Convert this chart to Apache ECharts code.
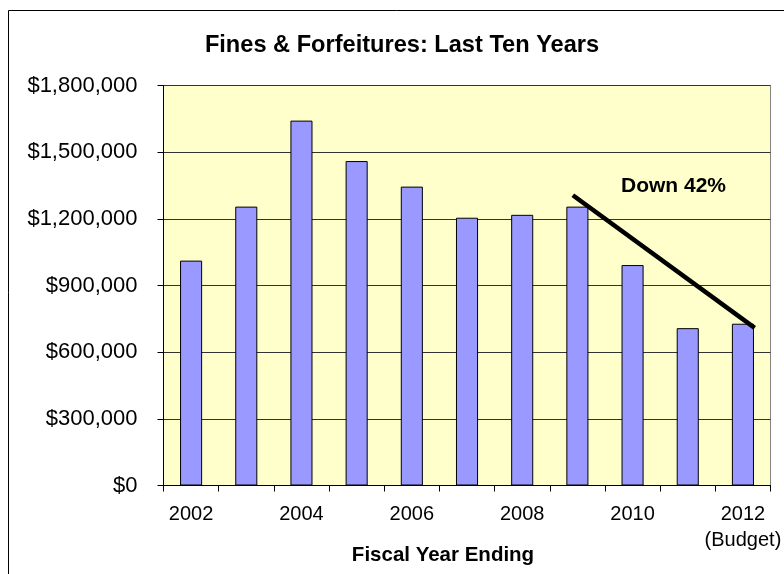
<!DOCTYPE html>
<html>
<head>
<meta charset="utf-8">
<title>Fines & Forfeitures</title>
<script src="https://cdn.jsdelivr.net/npm/echarts@6/dist/echarts.min.js"></script>
<style>
  html, body { margin: 0; padding: 0; background: #fff; }
  #chart { width: 784px; height: 574px; }
</style>
</head>
<body>
<div id="chart"></div>
<script>
// Fiscal years and collected fines (2012 is the budget figure)
var years = ['2002', '2003', '2004', '2005', '2006', '2007', '2008', '2009', '2010', '2011', '2012'];
var fines = [1012000, 1255000, 1642000, 1460000, 1345000, 1205000, 1218000, 1255000, 992000, 708000, 728000];
var yTicks = [0, 300000, 600000, 900000, 1200000, 1500000, 1800000];

// Trend line endpoints: x in category-index units, y in dollars
var trendX = [6.95, 10.18];
var trendY = [1300000, 715000];

var FONT = '"Liberation Sans", Arial, sans-serif';

function money(v) {
  return '$' + Number(v).toLocaleString('en-US');
}

var chart = echarts.init(document.getElementById('chart'), null, { renderer: 'canvas' });

chart.setOption({
  animation: false,
  backgroundColor: '#ffffff',
  grid: {
    left: 163.5,
    right: 7,
    top: 85.5,
    bottom: 88.5,
    show: true,
    backgroundColor: '#FFFFCC',
    borderColor: '#808080',
    borderWidth: 1
  },
  xAxis: [
    {
      type: 'category',
      data: years,
      boundaryGap: true,
      axisLine: { onZero: false, lineStyle: { color: '#000', width: 1 } },
      axisTick: { show: true, interval: 0, length: 6, lineStyle: { color: '#000' } },
      axisLabel: {
        interval: 1,
        margin: 16,
        fontFamily: FONT,
        fontSize: 20,
        lineHeight: 26,
        color: '#000',
        formatter: function (v) {
          return v === '2012' ? '2012\n(Budget)' : v;
        }
      },
      splitLine: { show: false }
    },
    {
      type: 'value',
      min: -0.5,
      max: 10.5,
      show: false,
      axisLine: { show: false, onZero: false },
      splitLine: { show: false }
    }
  ],
  yAxis: {
    type: 'value',
    min: yTicks[0],
    max: yTicks[yTicks.length - 1],
    interval: 300000,
    axisLine: { show: true, onZero: false, lineStyle: { color: '#000', width: 1 } },
    axisTick: { show: true, length: 6, lineStyle: { color: '#000' } },
    axisLabel: {
      margin: 26,
      fontFamily: FONT,
      fontSize: 22,
      color: '#000',
      formatter: money
    },
    splitLine: { show: true, lineStyle: { color: '#333', width: 1 } }
  },
  series: [
    {
      type: 'bar',
      data: fines,
      barWidth: '40%',
      itemStyle: { color: '#9999FF', borderColor: '#000', borderWidth: 1 }
    },
    {
      type: 'line',
      xAxisIndex: 1,
      data: [[trendX[0], trendY[0]], [trendX[1], trendY[1]]],
      symbol: 'none',
      lineStyle: { color: '#000', width: 4.5, cap: 'square' },
      z: 5
    }
  ],
  graphic: [
    {
      type: 'rect',
      shape: { x: 8.5, y: 10.5, width: 800, height: 600 },
      style: { fill: 'none', stroke: '#000', lineWidth: 1 },
      z: 100
    },
    {
      type: 'text',
      x: 402,
      y: 45,
      style: {
        text: 'Fines & Forfeitures: Last Ten Years',
        fontFamily: FONT,
        fontWeight: 'bold',
        fontSize: 23.6,
        fill: '#000',
        textAlign: 'center',
        textVerticalAlign: 'middle'
      }
    },
    {
      type: 'text',
      x: 621,
      y: 186,
      style: {
        text: 'Down 42%',
        fontFamily: FONT,
        fontWeight: 'bold',
        fontSize: 21,
        fill: '#000',
        textAlign: 'left',
        textVerticalAlign: 'middle'
      },
      z: 10
    },
    {
      type: 'text',
      x: 443,
      y: 555,
      style: {
        text: 'Fiscal Year Ending',
        fontFamily: FONT,
        fontWeight: 'bold',
        fontSize: 20.5,
        fill: '#000',
        textAlign: 'center',
        textVerticalAlign: 'middle'
      }
    }
  ]
});
</script>
</body>
</html>
